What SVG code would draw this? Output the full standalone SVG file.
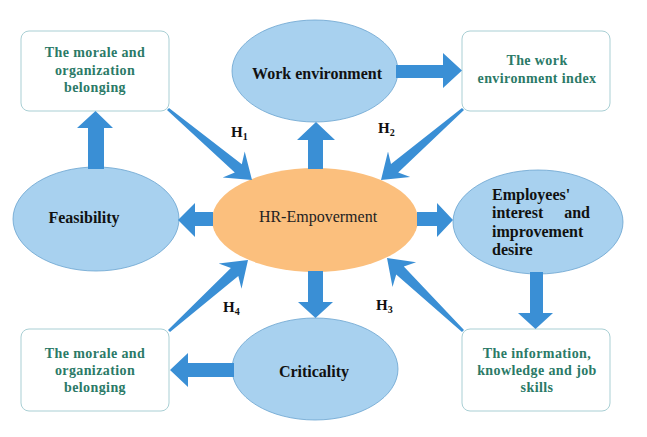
<svg xmlns="http://www.w3.org/2000/svg" width="647" height="437" viewBox="0 0 647 437">
<style>
.box{fill:#ffffff;stroke:#a9cfd4;stroke-width:1}
.ell{fill:#a8d1ef;stroke:#6aa3cf;stroke-width:0.8}
.hr{fill:#fbbf7d;stroke:none}
.arr{fill:#3a8fd5;stroke:none}
.gt{font-family:"Liberation Serif","DejaVu Serif",serif;font-weight:bold;font-size:14px;fill:#2b7a67;text-anchor:middle;letter-spacing:0.4px}
.bt{font-family:"Liberation Serif","DejaVu Serif",serif;font-weight:bold;font-size:16px;fill:#111111}
.ht{font-family:"Liberation Serif","DejaVu Serif",serif;font-weight:bold;font-size:15px;fill:#111111}
.hs{font-size:10px}
</style>
<rect width="647" height="437" fill="#ffffff"/>
<g id="box-morale-top">
<rect class="box" x="21" y="31" width="148" height="80" rx="8"/>
<text class="gt" x="95" y="57">The morale and</text>
<text class="gt" x="95" y="75">organization</text>
<text class="gt" x="95" y="92">belonging</text>
</g>
<g id="box-work-index">
<rect class="box" x="462" y="31" width="148" height="80" rx="8"/>
<text class="gt" x="537" y="65">The work</text>
<text class="gt" x="537" y="83">environment index</text>
</g>
<g id="box-morale-bottom">
<rect class="box" x="21" y="329" width="148" height="82" rx="8"/>
<text class="gt" x="95" y="358">The morale and</text>
<text class="gt" x="95" y="375">organization</text>
<text class="gt" x="95" y="392">belonging</text>
</g>
<g id="box-info">
<rect class="box" x="462" y="329" width="148" height="82" rx="8"/>
<text class="gt" x="537" y="358">The information,</text>
<text class="gt" x="537" y="375">knowledge and job</text>
<text class="gt" x="537" y="392">skills</text>
</g>
<g id="node-work-env">
<ellipse class="ell" cx="315" cy="71" rx="83" ry="51"/>
<text class="bt" x="317" y="79" text-anchor="middle">Work environment</text>
</g>
<g id="node-feasibility">
<ellipse class="ell" cx="96" cy="219" rx="83" ry="52"/>
<text class="bt" x="84" y="223" text-anchor="middle">Feasibility</text>
</g>
<g id="node-employees">
<ellipse class="ell" cx="538" cy="222" rx="85" ry="52"/>
<text class="bt" x="492" y="200">Employees'</text>
<text class="bt" x="492" y="218">interest</text>
<text class="bt" x="590" y="218" text-anchor="end">and</text>
<text class="bt" x="492" y="237">improvement</text>
<text class="bt" x="492" y="255">desire</text>
</g>
<g id="node-criticality">
<ellipse class="ell" cx="315" cy="369" rx="83" ry="51"/>
<text class="bt" x="314" y="377" text-anchor="middle">Criticality</text>
</g>
<g id="node-hr">
<ellipse class="hr" cx="315" cy="220" rx="103" ry="52"/>
<text x="318" y="222" text-anchor="middle" font-family="'Liberation Serif','DejaVu Serif',serif" font-size="16" fill="#222222">HR-Empoverment</text>
</g>
<g id="connectors">
<!-- Feasibility -> top-left box -->
<polygon class="arr" points="88,169 88,128 77,128 95.5,111 113,128 104,128 104,169"/>
<!-- HR -> Work environment -->
<polygon class="arr" points="308,169 308,140 297,140 316,122 335,140 323,140 323,169"/>
<!-- Work environment -> work index box -->
<polygon class="arr" points="396,65 443,65 443,53 462,70.5 443,88 443,78 396,78"/>
<!-- HR -> Feasibility -->
<polygon class="arr" points="213,212 195,212 195,203 178,220 195,237 195,226 213,226"/>
<!-- HR -> Employees -->
<polygon class="arr" points="417,212 437,212 437,203 453,220 437,237 437,226 417,226"/>
<!-- HR -> Criticality -->
<polygon class="arr" points="308,271 308,302 298,302 315.5,318 333,302 323,302 323,271"/>
<!-- Employees -> info box -->
<polygon class="arr" points="530,272 530,313 518,313 535.5,329 553,313 543,313 543,272"/>
<!-- Criticality -> bottom-left box -->
<polygon class="arr" points="234,363 188,363 188,353 170,370 188,387 188,377 234,377"/>
<!-- H1 -->
<polygon class="arr" points="167,110.1 234.8,172.6 222.7,177.5 252,180 244.7,151.5 241.8,164.2 169,107.9"/>
<!-- H2 -->
<polygon class="arr" points="462,107.9 391,164.0 388,151.5 381,180 410.2,177.1 398.2,172.4 464,110.1"/>
<!-- H3 -->
<polygon class="arr" points="464,329.9 403.8,266.5 416.1,262.3 387,258 392.5,286.9 396.2,274.5 462,332.1"/>
<!-- H4 -->
<polygon class="arr" points="170,332.1 238.3,276.1 241.5,288.7 248,260 218.7,263.4 230.9,267.9 168,329.9"/>
</g>
<g id="labels">
<text class="ht" x="231" y="137">H<tspan class="hs" dy="3">1</tspan></text>
<text class="ht" x="378" y="133">H<tspan class="hs" dy="3">2</tspan></text>
<text class="ht" x="376" y="310">H<tspan class="hs" dy="3">3</tspan></text>
<text class="ht" x="223" y="312">H<tspan class="hs" dy="3">4</tspan></text>
</g>
</svg>
